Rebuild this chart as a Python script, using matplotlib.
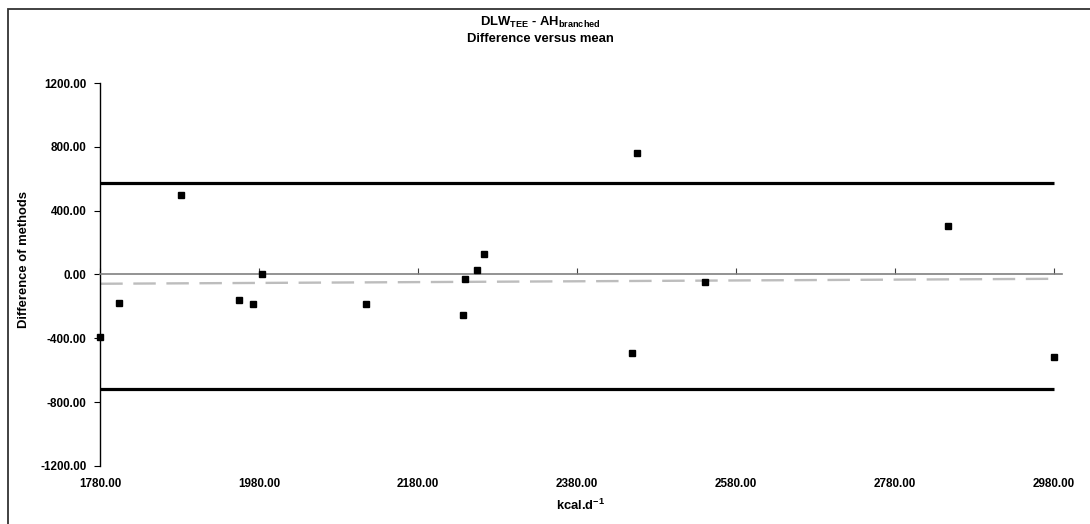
import matplotlib
matplotlib.use('Agg')
import matplotlib.pyplot as plt
import matplotlib.ticker as mticker
from matplotlib.patches import Rectangle

plt.rcParams['font.family'] = ['Liberation Sans', 'DejaVu Sans']
plt.rcParams['font.weight'] = 'bold'
plt.rcParams['mathtext.fontset'] = 'custom'
plt.rcParams['mathtext.rm'] = 'Liberation Sans:bold'
plt.rcParams['mathtext.bf'] = 'Liberation Sans:bold'

# mean of the two methods (kcal/d) and their difference
mean_kcal = [1780, 1804, 1881, 1954, 1972, 1983, 2114, 2236, 2239, 2254,
             2263, 2456, 2449, 2541, 2847, 2980]
diff_kcal = [-392, -178, 497, -160, -185, 0, -185, -253, -29, 27,
             126, 760, -489, -50, 307, -514]

# limits of agreement and trend of the difference
line_x = [1780, 2980]
upper_loa = 576
lower_loa = -717
trend_y = [-58, -27]

x_ticks = [1780, 1980, 2180, 2380, 2580, 2780, 2980]
y_ticks = [-1200, -800, -400, 0, 400, 800, 1200]

fig = plt.figure(figsize=(10.9, 5.24), dpi=100)
ax = fig.add_axes([0.092, 0.1107, 0.882, 0.7309])

ax.plot(line_x, [upper_loa, upper_loa], color='black', lw=2.3, solid_capstyle='butt', zorder=2)
ax.plot(line_x, [lower_loa, lower_loa], color='black', lw=2.3, solid_capstyle='butt', zorder=2)
ax.plot(line_x, trend_y, color='#bdbdbd', lw=1.7, dashes=(9.5, 4.5), zorder=2)
ax.plot(mean_kcal, diff_kcal, 's', color='black', ms=5, zorder=3, clip_on=False)

ax.set_xlim(1780, 2990)
ax.set_ylim(-1200, 1200)

# x axis crosses at zero, labels sit at the bottom
ax.spines['top'].set_visible(False)
ax.spines['right'].set_visible(False)
ax.spines['bottom'].set_position(('data', 0))
ax.spines['bottom'].set_color('#808080')
ax.spines['bottom'].set_linewidth(1.2)
ax.spines['left'].set_linewidth(1.0)
ax.set_xticks(x_ticks)
ax.tick_params(axis='x', direction='in', length=4, color='#404040', labelbottom=False)
ax.set_yticks(y_ticks)
ax.yaxis.set_major_formatter(mticker.FormatStrFormatter('%.2f'))
ax.tick_params(axis='y', direction='out', length=4, labelsize=8.4, pad=6)

sec = ax.secondary_xaxis('bottom')
sec.set_xticks(x_ticks)
sec.xaxis.set_major_formatter(mticker.FormatStrFormatter('%.2f'))
sec.tick_params(length=0, labelsize=8.4, pad=9)
sec.spines['bottom'].set_visible(False)
sec.set_xlabel(r'kcal.d$^{-1}$', fontsize=9.4, fontweight='bold', labelpad=5)

ax.set_ylabel('Difference of methods', fontsize=9.4, fontweight='bold')
ax.yaxis.set_label_coords(-0.073, 0.54)

fig.text(0.496, 0.957, r'DLW$_{\mathrm{TEE}}$ - AH$_{\mathrm{branched}}$',
         ha='center', va='center', fontsize=9.4, fontweight='bold')
fig.text(0.496, 0.925, 'Difference versus mean', ha='center', va='center',
         fontsize=9.4, fontweight='bold')

# chart border
fig.patches.append(Rectangle((0.0073, -0.1), 1.1, 1.083, transform=fig.transFigure,
                             fill=False, edgecolor='#333333', lw=1.3))

fig.savefig('out.png', dpi=100)
